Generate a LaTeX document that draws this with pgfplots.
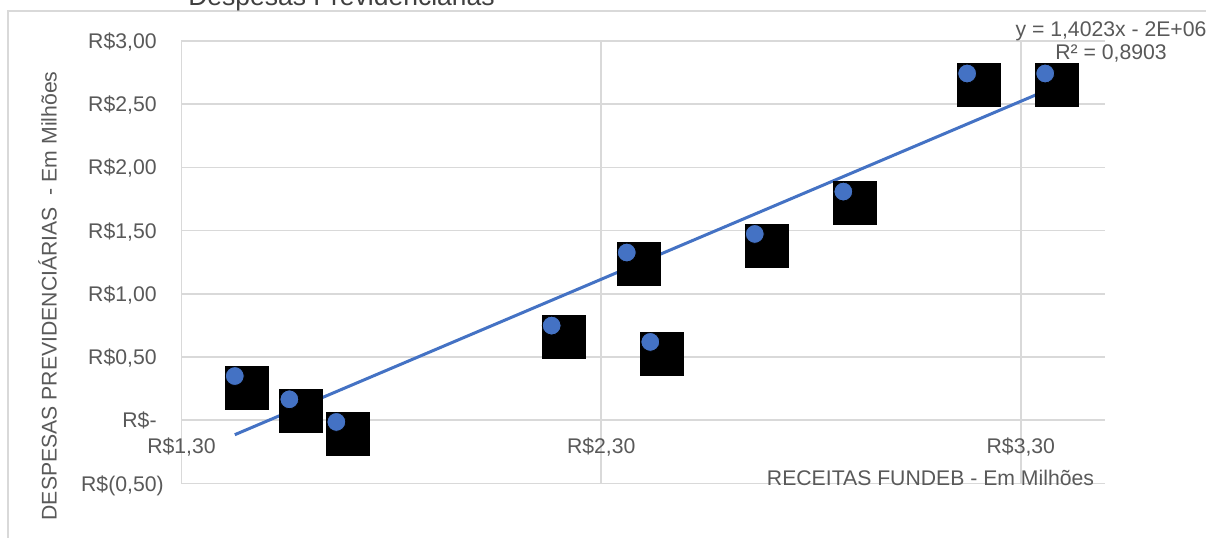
\documentclass[border=0pt]{standalone}
\usepackage{pgfplots}
\pgfplotsset{compat=1.18}
\usepackage{pgfplotstable}
\usepackage{fontspec}
\setmainfont{Liberation Sans}

\definecolor{ptblue}{HTML}{4472C4}
\definecolor{gridgray}{HTML}{D9D9D9}
\definecolor{txtgray}{HTML}{595959}

% Receitas FUNDEB (x) e despesas previdenciárias (y), em milhões de R$
\pgfplotstableread{
x      y
1.427  0.350
1.557  0.166
1.669 -0.013
2.182  0.749
2.361  1.327
2.417  0.620
2.666  1.474
2.877  1.809
3.172  2.743
3.358  2.743
}\datatable

\newcommand{\lblfont}{\fontsize{10.6}{12}\selectfont}

\begin{document}
\begin{tikzpicture}[x=0.5pt,y=0.5pt]
\path[use as bounding box] (0,0) rectangle (1206,537);
\clip (0,0) rectangle (1206,537);
\fill[white] (0,0) rectangle (1206,537);
% chart area frame
\draw[gridgray, line width=0.7pt] (8,-20) rectangle (1240,526);
% title
\node[anchor=base, inner sep=0pt, font=\fontsize{13.25}{15}\selectfont, text=black!75] at (341.5,531) {Despesas Previdenciárias};

\begin{axis}[
  at={(90.75pt,26.75pt)}, anchor=south west,
  scale only axis, width=461.65pt, height=221.25pt,
  xmin=1.30, xmax=3.50, ymin=-0.5, ymax=3.0,
  axis line style={draw=none},
  major tick length=0pt,
  xtick={1.3,2.3,3.3},
  xticklabels={{R\$1,30},{R\$2,30},{R\$3,30}},
  ytick={-0.5,0,0.5,1,1.5,2,2.5,3},
  yticklabels={{R\$(0,50\rlap{)}},{R\$-\hspace{5pt}},{R\$0,50},{R\$1,00},{R\$1,50},{R\$2,00},{R\$2,50},{R\$3,00}},
  grid=major,
  grid style={gridgray, line width=0.8pt},
  tick label style={font=\lblfont, text=txtgray, inner sep=0pt},
  xticklabel style={anchor=base, yshift=15.25pt},
  yticklabel style={anchor=base east, xshift=-12.25pt, yshift=-3.75pt},
  clip=false,
]
% cover boxes over the point labels
\addplot[only marks, mark=square*, mark size=10.75pt,
  mark options={fill=black, draw=none, xshift=5.9pt, yshift=-5.85pt}] table {\datatable};
% linear trend line
\addplot[ptblue, line width=1.5pt] coordinates {(1.427,-0.114) (3.358,2.605)};
% data points
\addplot[only marks, mark=*, mark size=4.7pt,
  mark options={fill=ptblue, draw=none}] table {\datatable};
\end{axis}

% trend line equation
\node[anchor=base, inner sep=0pt, font=\lblfont, text=txtgray] at (1111,500.3) {y = 1,4023x - 2E+06};
\node[anchor=base, inner sep=0pt, font=\lblfont, text=txtgray] at (1111,477) {R² = 0,8903};
% axis titles
\node[anchor=base, inner sep=0pt, font=\lblfont, text=txtgray] at (930.5,52) {RECEITAS FUNDEB - Em Milhões};
\node[anchor=base, rotate=90, inner sep=0pt, font=\lblfont, text=txtgray] at (56.5,241) {DESPESAS PREVIDENCIÁRIAS\ \ - Em Milhões};
\end{tikzpicture}
\end{document}
